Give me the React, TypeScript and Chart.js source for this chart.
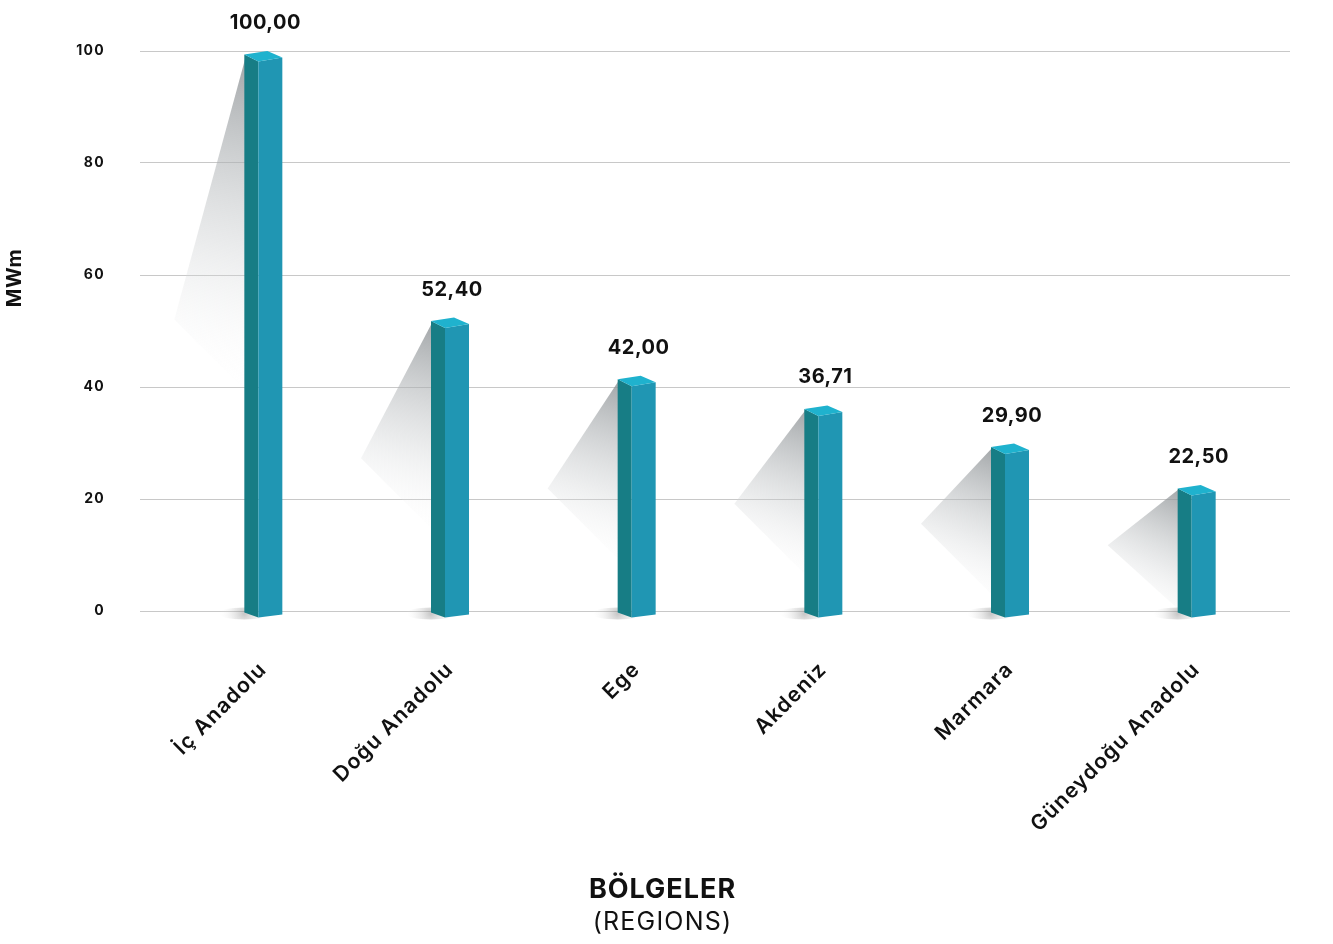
import React, { useEffect, useRef } from 'react';
import { Chart, registerables } from 'chart.js';

Chart.register(...registerables);

const categories = ['İç Anadolu', 'Doğu Anadolu', 'Ege', 'Akdeniz', 'Marmara', 'Güneydoğu Anadolu'];
const values = [100, 52.4, 42, 36.71, 29.9, 22.5];
const yTicks = [0, 20, 40, 60, 80, 100];
const yAxisTitle = 'MWm';
const xAxisTitle = 'BÖLGELER';
const xAxisSubtitle = '(REGIONS)';

const FONT = 'Inter, "Open Sans", "DejaVu Sans", sans-serif';
const LEFT_FACE = '#177d85';
const RIGHT_FACE = '#2096b3';
const TOP_FACE = '#1fb2ce';

const fmt = (v: number) => v.toFixed(2).replace('.', ',');

const bars3d = {
  id: 'bars3d',
  beforeDraw(chart: any) {
    (chart.ctx as any).letterSpacing = '1.3px';
  },
  beforeDatasetsDraw(chart: any) {
    const ctx: CanvasRenderingContext2D = chart.ctx;
    const meta = chart.getDatasetMeta(0);
    meta.data.forEach((bar: any) => {
      const { x, y, base } = bar.getProps(['x', 'y', 'base'], true);
      const L = x - 19;
      const h = base - y;
      const p2y = y + 0.48 * h;
      const p3y = Math.min(base, p2y + 72);
      ctx.save();
      const g = ctx.createLinearGradient(L, y, L - 60, p3y);
      g.addColorStop(0, 'rgba(135,140,143,0.8)');
      g.addColorStop(0.55, 'rgba(200,203,205,0.4)');
      g.addColorStop(1, 'rgba(255,255,255,0)');
      ctx.fillStyle = g;
      ctx.beginPath();
      ctx.moveTo(L + 2, y + 3.5);
      ctx.lineTo(L - 70, p2y);
      ctx.lineTo(L + 2, p3y);
      ctx.closePath();
      ctx.fill();
      const rg = ctx.createRadialGradient(L, base + 3, 1, L, base + 3, 26);
      rg.addColorStop(0, 'rgba(120,120,120,0.4)');
      rg.addColorStop(1, 'rgba(255,255,255,0)');
      ctx.fillStyle = rg;
      ctx.beginPath();
      ctx.ellipse(L, base + 3, 26, 6, 0, 0, Math.PI * 2);
      ctx.fill();
      ctx.restore();
    });
  },
  afterDatasetsDraw(chart: any) {
    const ctx: CanvasRenderingContext2D = chart.ctx;
    const meta = chart.getDatasetMeta(0);
    meta.data.forEach((bar: any, i: number) => {
      const { x, y, base } = bar.getProps(['x', 'y', 'base'], true);
      const L = x - 19;
      const M = x - 5;
      const R = x + 19;
      ctx.save();
      ctx.fillStyle = LEFT_FACE;
      ctx.beginPath();
      ctx.moveTo(L, y + 3.5);
      ctx.lineTo(M, y + 10.5);
      ctx.lineTo(M, base + 7);
      ctx.lineTo(L, base + 2);
      ctx.closePath();
      ctx.fill();
      ctx.fillStyle = RIGHT_FACE;
      ctx.beginPath();
      ctx.moveTo(M, y + 10.5);
      ctx.lineTo(R, y + 6.5);
      ctx.lineTo(R, base + 4);
      ctx.lineTo(M, base + 7);
      ctx.closePath();
      ctx.fill();
      ctx.fillStyle = TOP_FACE;
      ctx.beginPath();
      ctx.moveTo(x + 4, y);
      ctx.lineTo(R, y + 6.5);
      ctx.lineTo(M, y + 10.5);
      ctx.lineTo(L, y + 3.5);
      ctx.closePath();
      ctx.fill();
      ctx.fillStyle = '#111111';
      (ctx as any).letterSpacing = '0.5px';
      ctx.font = `700 20px ${FONT}`;
      ctx.textAlign = 'center';
      ctx.textBaseline = 'middle';
      ctx.fillText(fmt(values[i]), x + 2, y - 28);
      ctx.restore();
    });
  },
  afterDraw(chart: any) {
    const ctx: CanvasRenderingContext2D = chart.ctx;
    ctx.save();
    ctx.fillStyle = '#111111';
    ctx.textAlign = 'center';
    ctx.textBaseline = 'middle';
    (ctx as any).letterSpacing = '1px';
    ctx.font = `700 27px ${FONT}`;
    ctx.fillText(xAxisTitle, chart.width / 2 - 4, 890);
    (ctx as any).letterSpacing = '1.2px';
    ctx.font = `400 25px ${FONT}`;
    ctx.fillText(xAxisSubtitle, chart.width / 2 - 4, 922);
    ctx.translate(15, 278);
    ctx.rotate(-Math.PI / 2);
    (ctx as any).letterSpacing = '0.5px';
    ctx.font = `700 20px ${FONT}`;
    ctx.fillText(yAxisTitle, 0, 0);
    ctx.restore();
  },
};

export default function App() {
  const ref = useRef<HTMLCanvasElement>(null);
  useEffect(() => {
    document.body.style.margin = '0';
    const chart = new Chart(ref.current as HTMLCanvasElement, {
      type: 'bar',
      data: {
        labels: categories,
        datasets: [
          {
            data: values,
            backgroundColor: 'rgba(0,0,0,0)',
            borderWidth: 0,
            barThickness: 38,
          },
        ],
      },
      options: {
        responsive: false,
        animation: false,
        layout: { padding: { top: 51, right: 43, left: 0, bottom: 0 } },
        plugins: { legend: { display: false }, tooltip: { enabled: false } },
        scales: {
          x: {
            offset: true,
            grid: { display: false, drawTicks: false, tickLength: 0 },
            border: { display: false },
            ticks: {
              maxRotation: 45,
              minRotation: 45,
              padding: 46,
              color: '#111111',
              font: { family: FONT, size: 21, weight: '600' },
            },
            afterFit: (s: any) => {
              s.height = 333;
            },
          },
          y: {
            min: 0,
            max: 100,
            afterBuildTicks: (s: any) => {
              s.ticks = yTicks.map((v) => ({ value: v }));
            },
            grid: { color: '#c8c8c8', lineWidth: 1, tickLength: 30, drawTicks: true },
            border: { display: false },
            ticks: {
              padding: 35,
              color: '#111111',
              font: { family: FONT, size: 14, weight: '700' },
            },
            afterFit: (s: any) => {
              s.width = 170;
            },
          },
        },
      },
      plugins: [bars3d],
    });
    return () => chart.destroy();
  }, []);
  return (
    <div style={{ position: 'absolute', left: 0, top: 0, width: 1333, height: 944, background: '#ffffff' }}>
      <canvas ref={ref} width={1333} height={944} style={{ display: 'block' }} />
    </div>
  );
}
